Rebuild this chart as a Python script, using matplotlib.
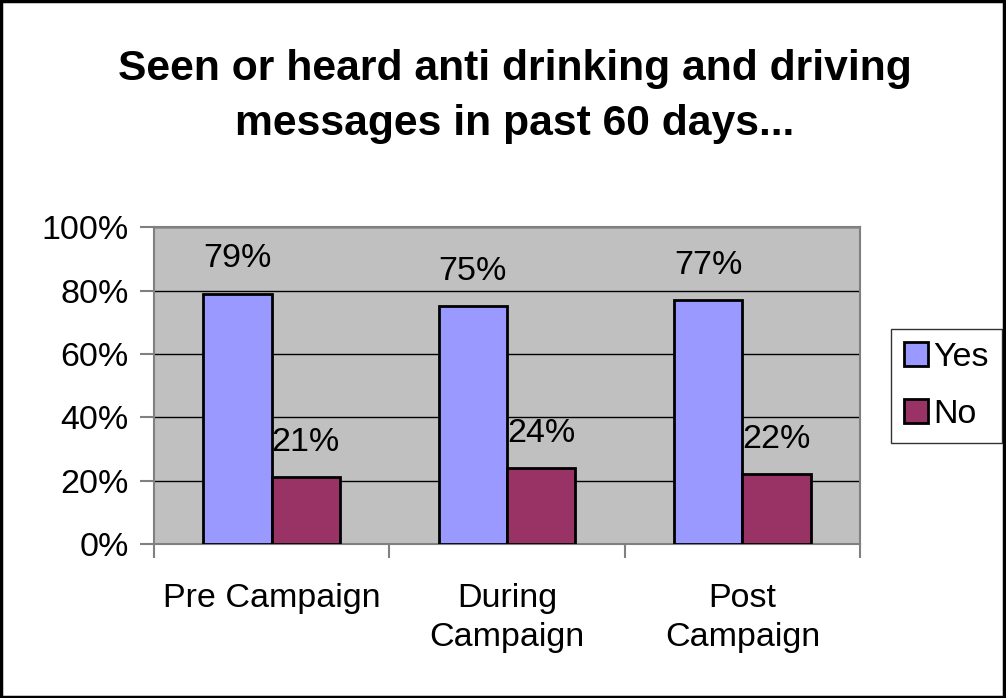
import matplotlib.pyplot as plt
import numpy as np

plt.rcParams['font.family'] = ['Liberation Sans', 'DejaVu Sans']

categories = ['Pre Campaign', 'During\nCampaign', 'Post\nCampaign']
yes_vals = [79, 75, 77]
no_vals = [21, 24, 22]
yes_labels = ['79%', '75%', '77%']
no_labels = ['21%', '24%', '22%']

fs = 24.5

fig = plt.figure(figsize=(10.06, 6.98), dpi=100)
ax = fig.add_axes([0.153, 0.2206, 0.702, 0.454])

x = np.arange(len(categories))
w = 0.29
ax.set_facecolor('#C0C0C0')
b1 = ax.bar(x - w/2, yes_vals, w, color='#9999FF', edgecolor='black', linewidth=2, label='Yes', zorder=3)
b2 = ax.bar(x + w/2, no_vals, w, color='#993366', edgecolor='black', linewidth=2, label='No', zorder=3)

for i in range(len(x)):
    ax.text(x[i] - w/2, yes_vals[i] + 11, yes_labels[i], ha='center', va='center', fontsize=fs, zorder=4)
    ax.text(x[i] + w/2, no_vals[i] + 11, no_labels[i], ha='center', va='center', fontsize=fs, zorder=4)

ax.set_xlim(-0.5, 2.5)
ax.set_ylim(0, 100)
ax.set_yticks([0, 20, 40, 60, 80, 100])
ax.set_yticklabels(['0%', '20%', '40%', '60%', '80%', '100%'], fontsize=fs)
ax.yaxis.grid(True, color='black', linewidth=1, zorder=0)
ax.set_axisbelow(True)

ax.set_xticks([-0.5, 0.5, 1.5, 2.5])
ax.set_xticklabels([])
ax.set_xticks(x, minor=True)
ax.set_xticklabels(categories, minor=True, fontsize=fs, linespacing=1.35)
ax.tick_params(axis='x', which='minor', length=0, pad=28)
ax.tick_params(axis='x', which='major', length=10, color='#808080', width=1.5)
ax.tick_params(axis='y', length=10, color='#808080', width=1.5, pad=8)
for s in ax.spines.values():
    s.set_color('#808080')
    s.set_linewidth(1.5)

fig.text(0.512, 0.862, 'Seen or heard anti drinking and driving\nmessages in past 60 days...',
         ha='center', va='center', fontsize=30.7, fontweight='bold', linespacing=1.5)

leg = fig.legend(handles=[b1, b2], loc='center', bbox_to_anchor=(0.941, 0.447), fontsize=fs,
                 frameon=True, fancybox=False, edgecolor='black', handlelength=0.7, handleheight=0.7,
                 handletextpad=0.15, labelspacing=0.75, borderpad=0.4, borderaxespad=0)
leg.get_frame().set_linewidth(1)

fig.patches.append(plt.Rectangle((0.001, 0.001), 0.997, 0.997, transform=fig.transFigure,
                                 fill=False, edgecolor='black', linewidth=2.5))

fig.savefig('out.png', dpi=100)
